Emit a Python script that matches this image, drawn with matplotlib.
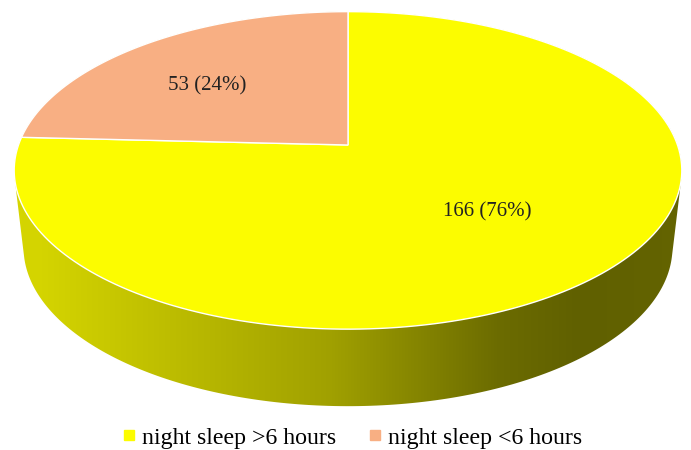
import matplotlib
matplotlib.use("Agg")
import matplotlib.pyplot as plt
import numpy as np
from matplotlib.patches import Polygon
from matplotlib.lines import Line2D
from matplotlib.colors import LinearSegmentedColormap

#------------------------------------------------------------
# data
labels = ["night sleep >6 hours", "night sleep <6 hours"]
counts = [166, 53]
percents = [76, 24]
colors = ["#FCFC00", "#F8AF83"]

#------------------------------------------------------------
# 3D pie geometry (pixel coordinates, y downwards)
W, H = 691, 450
cx, cy = 348, 145       # centre of top face
kx, ky = 329.5, 154.7   # radii
p = 0.16                # perspective strength
depth = 77              # height of side wall
shrink = 0.972          # bottom ellipse slightly narrower


def proj(theta, r=1.0):
    X = r * np.cos(theta)
    Y = r * np.sin(theta)
    d = 1 + p * Y
    return cx + kx * X / d, cy - ky * Y / d


def hull(pts):
    # monotone chain convex hull
    pts = sorted(map(tuple, pts))
    def cross(o, a, b):
        return (a[0] - o[0]) * (b[1] - o[1]) - (a[1] - o[1]) * (b[0] - o[0])
    lower, upper = [], []
    for q in pts:
        while len(lower) >= 2 and cross(lower[-2], lower[-1], q) <= 0:
            lower.pop()
        lower.append(q)
    for q in reversed(pts):
        while len(upper) >= 2 and cross(upper[-2], upper[-1], q) <= 0:
            upper.pop()
        upper.append(q)
    return np.array(lower[:-1] + upper[:-1])


fig = plt.figure(figsize=(W / 100, H / 100), dpi=100)
ax = fig.add_axes([0, 0, 1, 1])
ax.set_xlim(0, W)
ax.set_ylim(H, 0)
ax.axis("off")

# side wall (convex hull of top and bottom ellipses) with gradient
t = np.linspace(0, 2 * np.pi, 400)
tx, ty = proj(t)
bx = cx + (tx - cx) * shrink
by = ty + depth
side = hull(np.column_stack([np.r_[tx, bx], np.r_[ty, by]]))
side_patch = Polygon(side, closed=True, facecolor="none", edgecolor="none")
ax.add_patch(side_patch)

grad = LinearSegmentedColormap.from_list(
    "side",
    [(0.0, "#d6d600"), (0.06, "#d4d400"), (0.48, "#a0a000"),
     (0.72, "#6c6c00"), (0.84, "#606000"), (1.0, "#646400")])
img = ax.imshow(np.linspace(0, 1, 256)[None, :], cmap=grad, aspect="auto",
                extent=[0, W, H, 0], zorder=1)
img.set_clip_path(side_patch)

# top face wedges, clockwise from 12 o'clock
total = sum(counts)
start = np.pi / 2
label_xy = [(487, 212), (207, 86)]
for i, c in enumerate(counts):
    sweep = 2 * np.pi * c / total
    a = np.linspace(start, start - sweep, 200)
    ax_, ay_ = proj(a)
    poly = np.column_stack([np.r_[cx, ax_], np.r_[cy, ay_]])
    ax.add_patch(Polygon(poly, closed=True, facecolor=colors[i],
                         edgecolor="white", linewidth=1.0, zorder=3))
    ax.text(*label_xy[i], f"{c} ({percents[i]}%)", ha="center", va="center",
            fontsize=15, family="Liberation Serif", color="#222222", zorder=5)
    start -= sweep

# legend
handles = [Line2D([0], [0], marker="s", linestyle="none", markersize=7.5,
                  markerfacecolor=col, markeredgecolor=col) for col in colors]
fig.legend(handles, labels, loc="center", bbox_to_anchor=(0.5095, 0.027),
           ncol=2, frameon=False, handlelength=0.6, handletextpad=0.25,
           columnspacing=1.3, borderpad=0,
           prop={"family": "Liberation Serif", "size": 17.2})

fig.savefig("out.png", dpi=100)
